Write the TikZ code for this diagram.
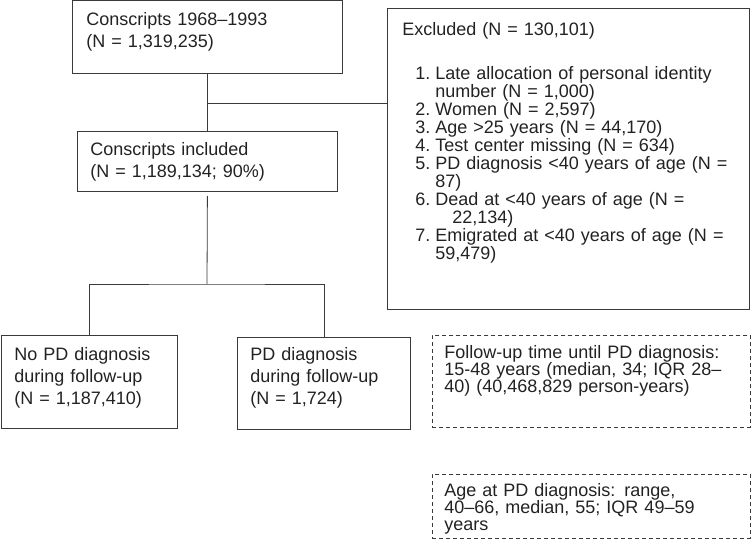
\documentclass[tikz,border=0pt]{standalone}
\usepackage{fontspec}
\setmainfont{Liberation Sans}
\usetikzlibrary{positioning}

\definecolor{linegray}{HTML}{3A3A3A}
\definecolor{textgray}{HTML}{222222}

\tikzset{
  flowbox/.style={draw=linegray, line width=0.8pt, anchor=north west,
    inner ysep=0pt, align=left, text=textgray,
    font=\fontsize{18}{22}\selectfont},
  notebox/.style={flowbox, dash pattern=on 4pt off 3pt,
    font=\fontsize{18}{17}\selectfont},
  link/.style={draw=linegray, line width=0.8pt}
}

\begin{document}
\begin{tikzpicture}[x=1pt, y=-1pt]
    % Rahmen
    \useasboundingbox (0,0) rectangle (752,548);

    % Kaestchen links
    \node[flowbox, inner xsep=14pt, text width=242pt, text height=25pt, text depth=48pt]
      (consc) at (72,0) {Conscripts 1968--1993\\(N = 1,319,235)};
    \node[flowbox, inner xsep=13pt, text width=234pt, text height=24pt, text depth=36pt]
      (incl) at (77,131) {Conscripts included\\(N = 1,189,134; 90\%)};

    % Ausgeschlossene
    \node[flowbox, inner xsep=15pt, text width=332pt, text height=27pt, text depth=274pt,
      font=\fontsize{18}{18}\selectfont]
      (excl) at (387,8) {Excluded (N = 130,101)\\[26pt]
      \hspace*{13pt}\makebox[20pt][l]{1.}Late allocation of personal identity\\
      \hspace*{33pt}number (N = 1,000)\\
      \hspace*{13pt}\makebox[20pt][l]{2.}Women (N = 2,597)\\
      \hspace*{13pt}\makebox[20pt][l]{3.}Age >25 years (N = 44,170)\\
      \hspace*{13pt}\makebox[20pt][l]{4.}Test center missing (N = 634)\\
      \hspace*{13pt}\makebox[20pt][l]{5.}PD diagnosis <40 years of age (N =\\
      \hspace*{33pt}87)\\
      \hspace*{13pt}\makebox[20pt][l]{6.}Dead at <40 years of age (N =\\
      \hspace*{50pt}22,134)\\
      \hspace*{13pt}\makebox[20pt][l]{7.}Emigrated at <40 years of age (N =\\
      \hspace*{33pt}59,479)};

    % Untere Kaestchen
    \node[flowbox, inner xsep=13pt, text width=150pt, text height=25pt, text depth=68pt]
      (nopd) at (1,335) {No PD diagnosis\\during follow-up\\(N = 1,187,410)};
    \node[flowbox, inner xsep=13pt, text width=147pt, text height=23pt, text depth=69pt]
      (pd) at (237,337) {PD diagnosis\\during follow-up\\(N = 1,724)};

    % Gestrichelte Anmerkungen
    \node[notebox, inner xsep=12pt, text width=294pt, text height=23pt, text depth=69pt]
      (fup) at (432,335) {Follow-up time until PD diagnosis:\\15-48 years (median, 34; IQR 28--\\40) (40,468,829 person-years)};
    \node[notebox, inner xsep=12pt, text width=294pt, text height=22pt, text depth=42pt]
      (agepd) at (432,474) {Age at PD diagnosis: range,\\40--66, median, 55; IQR 49--59\\years};

    % Verbindungslinien
    \coordinate (split) at (207,103);
    \coordinate (fork) at (207,284);
    \draw[link] (consc.south) -- (incl.north);
    \draw[link] (split) -- (split -| excl.west);
    \draw[link] ([yshift=-4pt]incl.south) -- (fork);
    \draw[link] (nopd.north) |- (fork) -| (pd.north);

  \end{tikzpicture}
\end{document}
